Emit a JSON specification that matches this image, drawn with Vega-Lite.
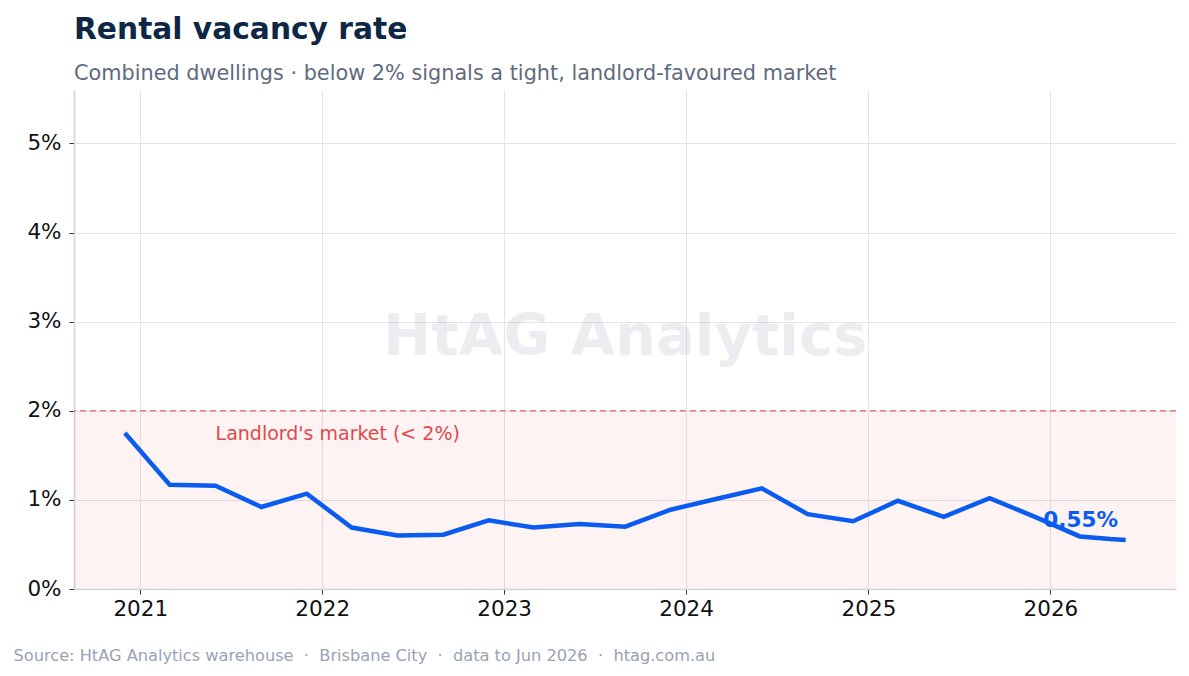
{
  "$schema": "https://vega.github.io/schema/vega-lite/v6.json",
  "width": 1102,
  "height": 499,
  "autosize": {"type": "none"},
  "padding": {"left": 74, "top": 90, "right": 13, "bottom": 87},
  "background": "white",
  "config": {"font": "DejaVu Sans", "view": {"stroke": null}},
  "title": {
    "text": "Rental vacancy rate",
    "subtitle": "Combined dwellings · below 2% signals a tight, landlord-favoured market",
    "anchor": "start",
    "frame": "group",
    "fontSize": 29.7,
    "fontWeight": "bold",
    "color": "#0d2745",
    "subtitleFontSize": 20.8,
    "subtitleColor": "#5f6b7c",
    "subtitlePadding": 19,
    "offset": 5
  },
  "datasets": {
    "vacancy": [
      {"date": "2020-12-01", "rate": 1.75},
      {"date": "2021-03-01", "rate": 1.17},
      {"date": "2021-06-01", "rate": 1.16},
      {"date": "2021-09-01", "rate": 0.92},
      {"date": "2021-12-01", "rate": 1.07},
      {"date": "2022-03-01", "rate": 0.69},
      {"date": "2022-06-01", "rate": 0.6},
      {"date": "2022-09-01", "rate": 0.61},
      {"date": "2022-12-01", "rate": 0.77},
      {"date": "2023-03-01", "rate": 0.69},
      {"date": "2023-06-01", "rate": 0.73},
      {"date": "2023-09-01", "rate": 0.7},
      {"date": "2023-12-01", "rate": 0.89},
      {"date": "2024-03-01", "rate": 1.01},
      {"date": "2024-06-01", "rate": 1.13},
      {"date": "2024-09-01", "rate": 0.84},
      {"date": "2024-12-01", "rate": 0.76},
      {"date": "2025-03-01", "rate": 0.99},
      {"date": "2025-06-01", "rate": 0.81},
      {"date": "2025-09-01", "rate": 1.02},
      {"date": "2025-12-01", "rate": 0.81},
      {"date": "2026-03-01", "rate": 0.59},
      {"date": "2026-05-01", "rate": 0.56},
      {"date": "2026-06-01", "rate": 0.55}
    ],
    "band": [
      {"start": "2020-08-21", "end": "2026-09-10", "low": 0, "high": 2}
    ],
    "single": [{}]
  },
  "layer": [
    {
      "data": {"name": "band"},
      "mark": {"type": "rect", "color": "#e53935", "opacity": 0.06},
      "encoding": {
        "x": {
          "field": "start",
          "type": "temporal",
          "scale": {"domain": [{"year": 2020, "month": 8, "date": 21}, {"year": 2026, "month": 9, "date": 10}]},
          "axis": {
            "values": [{"year": 2021}, {"year": 2022}, {"year": 2023}, {"year": 2024}, {"year": 2025}, {"year": 2026}],
            "format": "%Y",
            "labelFontSize": 21.5,
            "labelColor": "#111111",
            "labelPadding": 4,
            "tickColor": "#333333",
            "tickSize": 5,
            "domainColor": "#cfd4de",
            "domainWidth": 1.5,
            "grid": true,
            "gridColor": "#e4e4e8",
            "title": "Source: HtAG Analytics warehouse \u00a0·\u00a0 Brisbane City \u00a0·\u00a0 data to Jun 2026 \u00a0·\u00a0 htag.com.au",
            "titleFontSize": 16.2,
            "titleFontWeight": "normal",
            "titleColor": "#98a3b3",
            "titleAlign": "left",
            "titleAnchor": "start",
            "titleBaseline": "alphabetic",
            "titleX": -61,
            "titleY": 71
          }
        },
        "x2": {"field": "end"},
        "y": {
          "field": "low",
          "type": "quantitative",
          "scale": {"domain": [0, 5.6], "nice": false},
          "axis": {
            "values": [0, 1, 2, 3, 4, 5],
            "labelExpr": "datum.value + '%'",
            "labelFontSize": 21.5,
            "labelColor": "#111111",
            "labelPadding": 8,
            "tickColor": "#333333",
            "tickSize": 5,
            "domainColor": "#cfd4de",
            "domainWidth": 1.5,
            "grid": true,
            "gridColor": "#e4e4e8",
            "title": null
          }
        },
        "y2": {"field": "high"}
      }
    },
    {
      "data": {"name": "single"},
      "mark": {"type": "text", "fontSize": 57.5, "fontWeight": "bold", "color": "#8c96a5", "opacity": 0.16, "align": "center", "baseline": "middle", "text": "HtAG Analytics"},
      "encoding": {
        "x": {"datum": {"year": 2023, "month": 9, "date": 1}, "type": "temporal"},
        "y": {"datum": 2.82, "type": "quantitative"}
      }
    },
    {
      "data": {"name": "single"},
      "mark": {"type": "rule", "color": "#e57f7f", "strokeWidth": 1.5, "strokeDash": [6, 4]},
      "encoding": {"y": {"datum": 2, "type": "quantitative"}}
    },
    {
      "data": {"name": "single"},
      "mark": {"type": "text", "fontSize": 19, "color": "#e04a4a", "align": "left", "baseline": "middle", "text": "Landlord's market (< 2%)"},
      "encoding": {
        "x": {"datum": {"year": 2021, "month": 6, "date": 1}, "type": "temporal"},
        "y": {"datum": 1.74, "type": "quantitative"}
      }
    },
    {
      "data": {"name": "vacancy"},
      "mark": {"type": "line", "color": "#0a5cf0", "strokeWidth": 4.5, "strokeJoin": "miter"},
      "encoding": {
        "x": {"field": "date", "type": "temporal"},
        "y": {"field": "rate", "type": "quantitative"}
      }
    },
    {
      "data": {"name": "vacancy"},
      "transform": [
        {"filter": "year(datum.date) == 2026 && month(datum.date) == 5"},
        {"calculate": "format(datum.rate, '.2f') + '%'", "as": "label"}
      ],
      "mark": {"type": "text", "fontSize": 21.5, "fontWeight": "bold", "color": "#0a5cf0", "align": "center", "baseline": "middle", "dx": -45, "dy": -19},
      "encoding": {
        "x": {"field": "date", "type": "temporal"},
        "y": {"field": "rate", "type": "quantitative"},
        "text": {"field": "label"}
      }
    }
  ]
}
